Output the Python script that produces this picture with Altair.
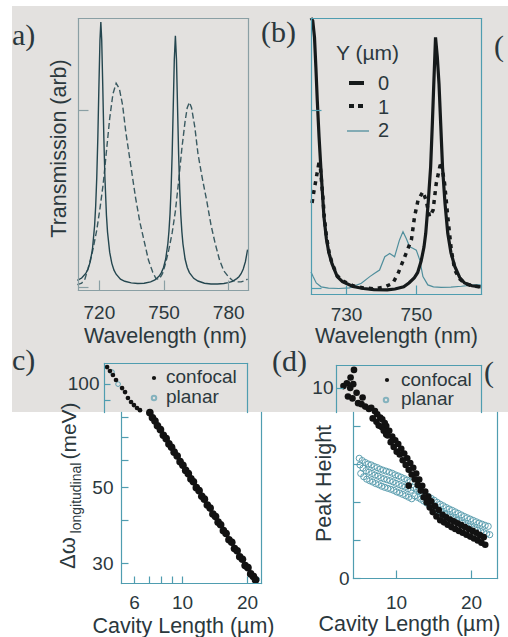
import altair as alt
import pandas as pd

# ---------------- data ----------------
# (a) transmission spectra
A_SOLID_LAM = [710, 712, 714, 715, 716, 717, 718, 718.5, 719, 719.5, 720, 720.5, 720.9, 721.3, 721.8, 722.3,
               722.8, 723.5, 724, 725, 726, 727, 728, 730, 732, 735, 738, 741, 744, 746, 748, 749, 750, 751,
               752, 752.5, 753, 753.5, 754, 754.5, 755, 755.5, 756, 756.5, 757, 757.5, 758, 758.5, 759, 760,
               761, 762, 764, 766, 769, 772, 775, 778, 780, 782, 784, 785, 786, 787, 788, 789]
A_SOLID_I = [0.035, 0.044, 0.062, 0.078, 0.104, 0.15, 0.236, 0.308, 0.412, 0.559, 0.747, 0.92, 0.985, 0.92,
             0.747, 0.559, 0.412, 0.275, 0.213, 0.139, 0.098, 0.073, 0.058, 0.04, 0.032, 0.026, 0.024, 0.025,
             0.03, 0.037, 0.051, 0.064, 0.083, 0.114, 0.17, 0.215, 0.278, 0.37, 0.5, 0.672, 0.848, 0.935,
             0.848, 0.672, 0.5, 0.37, 0.278, 0.215, 0.17, 0.114, 0.083, 0.064, 0.043, 0.033, 0.025, 0.022,
             0.022, 0.024, 0.027, 0.032, 0.042, 0.049, 0.06, 0.077, 0.104, 0.148]
A_DASH_LAM = [710, 712, 713.5, 715, 717, 719, 720.5, 722, 723.5, 725, 726.5, 728, 729.5, 731, 732.5, 734,
              735.5, 737, 739, 741, 743, 745, 746.5, 748, 749.5, 751, 752.5, 754, 755.5, 757, 758.5, 760,
              761, 762, 763, 764.5, 766, 768, 770, 772, 774, 776, 778, 780, 782, 784, 786, 788, 789]
A_DASH_I = [0.02, 0.025, 0.04, 0.08, 0.14, 0.22, 0.30, 0.39, 0.51, 0.63, 0.72, 0.76, 0.74, 0.68, 0.58, 0.50,
            0.42, 0.34, 0.25, 0.18, 0.11, 0.065, 0.042, 0.04, 0.06, 0.10, 0.15, 0.21, 0.29, 0.40, 0.52, 0.62,
            0.67, 0.69, 0.67, 0.60, 0.50, 0.41, 0.33, 0.24, 0.17, 0.11, 0.07, 0.05, 0.035, 0.03, 0.03, 0.035, 0.04]

# (b) spectra for Y = 0, 1, 2 um
B_Y0_LAM = [720.0, 720.5, 721.0, 721.4, 721.8, 722.3, 722.8, 723.3, 723.7, 724.4, 725.1, 726.0, 727.5, 729.0,
            732.0, 735.0, 738.0, 741.8, 744.0, 746.5, 748.0, 749.5, 750.5, 751.5, 752.3, 752.8, 753.5, 754.2,
            754.7, 755.1, 755.6, 756.1, 756.6, 757.1, 757.6, 758.3, 759.1, 760.0, 761.1, 762.5, 763.9, 766.0, 768.5]
B_Y0_I = [1.0, 0.99, 0.93, 0.82, 0.70, 0.57, 0.46, 0.36, 0.28, 0.20, 0.15, 0.11, 0.063, 0.045, 0.027, 0.02,
          0.016, 0.015, 0.018, 0.026, 0.04, 0.058, 0.078, 0.12, 0.17, 0.22, 0.33, 0.46, 0.62, 0.76, 0.93, 0.86,
          0.76, 0.61, 0.46, 0.33, 0.22, 0.15, 0.10, 0.06, 0.04, 0.03, 0.026]
B_Y1_LAM = [720.3, 720.8, 721.5, 722.2, 722.6, 723.0, 723.4, 723.8, 724.4, 725.1, 726.0, 727.5, 729.0, 732.0,
            735.0, 738.0, 741.0, 743.4, 744.9, 746.8, 748.7, 749.6, 750.6, 752.0, 752.9, 753.9, 754.9, 755.8,
            756.8, 757.2, 758.2, 759.1, 760.1, 761.1, 762.5, 764.0, 766.0, 768.5]
B_Y1_I = [0.33, 0.37, 0.42, 0.47, 0.47, 0.41, 0.35, 0.28, 0.21, 0.155, 0.112, 0.066, 0.048, 0.03, 0.022, 0.019,
          0.025, 0.039, 0.075, 0.135, 0.196, 0.28, 0.34, 0.371, 0.34, 0.28, 0.304, 0.40, 0.46, 0.479, 0.40, 0.28,
          0.16, 0.087, 0.055, 0.038, 0.03, 0.026]
B_Y2_LAM = [720.0, 720.6, 721.5, 722.9, 725.0, 728.0, 731.0, 734.4, 736.8, 738.2, 739.6, 741.1, 742.5, 743.9,
            745.3, 746.3, 747.2, 748.2, 749.1, 750.1, 751.1, 752.0, 753.4, 755.0, 757.2, 760.0, 763.0, 766.8, 768.5]
B_Y2_I = [0.08, 0.063, 0.04, 0.026, 0.021, 0.02, 0.022, 0.039, 0.063, 0.075, 0.087, 0.135, 0.147, 0.135, 0.196,
          0.226, 0.202, 0.171, 0.166, 0.159, 0.123, 0.063, 0.033, 0.026, 0.024, 0.025, 0.028, 0.033, 0.033]
B_LEGEND = ["0", "1", "2"]

# (c) longitudinal mode spacing (meV) vs cavity length (um)
C_CONF_TOP_L = [4.50, 4.64, 4.79, 4.95, 5.28, 5.45, 5.62, 5.81, 5.99, 6.19, 6.39]
C_CONF_TOP_D = [111.9, 109.0, 106.1, 102.6, 97.2, 94.6, 90.9, 88.5, 86.7, 85.0, 83.8]
C_CONF_L = [7.1, 7.3, 7.5, 7.7, 7.95, 8.2, 8.45, 8.7, 8.95, 9.2, 9.5, 9.8, 10.1, 10.4, 10.7, 11.0, 11.3, 11.65,
            12.0, 12.35, 12.7, 13.1, 13.5, 13.9, 14.3, 14.7, 15.1, 15.55, 16.0, 16.5, 17.0, 17.5, 18.0, 18.5,
            19.05, 19.6, 20.2, 20.8, 21.4, 21.9]
C_CONF_D = [82.4, 79.6, 77.9, 75.4, 73.5, 70.8, 69.2, 66.8, 65.3, 63.2, 61.6, 59.3, 57.9, 55.9, 54.7, 52.8, 51.8,
            49.8, 48.8, 47.0, 46.1, 44.3, 43.4, 41.7, 41.0, 39.5, 38.8, 37.3, 36.6, 35.1, 34.5, 33.1, 32.6, 31.3,
            30.8, 29.5, 29.1, 27.9, 27.4, 26.8]
C_PLAN_L = [4.74, 5.06, 8.0, 10.0, 12.0, 14.0, 16.0, 18.0, 20.0, 22.3]
C_PLAN_D = [108.2, 99.8, 72.9, 58.3, 48.6, 41.6, 36.4, 32.4, 29.2, 26.9]

# (d) peak height vs cavity length (um)
D_CONF_TOP_L = [4.40, 3.00, 3.45, 3.90, 4.30, 3.60, 4.20, 4.75, 4.95, 5.40, 5.90, 5.55, 6.40, 3.95]
D_CONF_TOP_P = [10.95, 10.10, 10.25, 10.0, 10.2, 9.55, 9.45, 9.75, 9.2, 9.15, 9.02, 9.5, 8.9, 10.55]
D_CONF_A_L = [6.7, 7.2, 7.5, 7.9, 8.17, 8.5, 8.7, 9.1, 9.5, 9.9, 10.3, 10.7, 11.1, 11.5, 11.9, 12.3, 12.7, 13.1,
              13.5, 13.9, 14.3, 14.7, 15.2, 15.7, 16.2, 16.7, 17.2, 17.7, 18.2, 18.7, 19.2, 19.7, 20.2, 20.7, 21.2, 21.7]
D_CONF_A_P = [8.96, 8.78, 8.62, 8.45, 8.35, 8.15, 8.0, 7.75, 7.45, 7.25, 7.05, 6.8, 6.55, 6.3, 6.05, 5.8, 5.5, 5.18,
              4.85, 4.55, 4.28, 4.03, 3.78, 3.58, 3.33, 3.2, 3.08, 2.98, 2.88, 2.78, 2.68, 2.58, 2.48, 2.38, 2.26, 2.15]
D_CONF_B_L = [6.9, 7.4, 7.7, 8.1, 8.37, 8.7, 8.9, 9.3, 9.7, 10.1, 10.5, 10.9, 11.3, 11.7, 12.1, 12.5, 12.9, 13.3,
              13.7, 14.1, 14.5, 14.9, 15.4, 15.9, 16.4, 16.9, 17.4, 17.9, 18.4, 18.9, 19.4, 19.9, 20.4, 20.9, 21.4, 21.9, 11.7]
D_CONF_B_P = [8.40, 8.22, 8.02, 7.95, 7.75, 7.55, 7.5, 7.15, 6.9, 6.65, 6.5, 6.2, 5.95, 5.7, 5.45, 5.2, 4.9, 4.6,
              4.25, 3.98, 3.72, 3.47, 3.24, 3.04, 2.93, 2.8, 2.68, 2.58, 2.48, 2.38, 2.28, 2.18, 2.08, 1.98, 1.86, 1.75, 4.86]
D_PLAN_1_L = [5.1, 5.5, 5.9, 6.3, 6.7, 7.1, 7.5, 7.9, 8.3, 8.7, 9.1, 9.5, 9.9, 10.3, 10.7, 11.1, 11.5, 11.9,
              5.2, 5.6, 6.0, 6.4, 6.8, 7.2, 7.6, 8.0, 8.4, 8.8, 9.2, 9.6, 10.0, 10.4, 10.8, 11.2, 11.6, 12.0,
              5.3, 5.7, 6.1, 6.5, 6.9, 7.3, 7.7, 8.1, 8.5, 8.9, 9.3, 9.7, 10.1, 10.5, 10.9, 11.3, 11.7, 12.1]
D_PLAN_1_P = [6.30, 6.18, 6.08, 6.0, 5.95, 5.87, 5.81, 5.73, 5.67, 5.62, 5.57, 5.51, 5.43, 5.37, 5.30, 5.23, 5.15, 5.07,
              5.95, 5.78, 5.65, 5.57, 5.50, 5.42, 5.36, 5.28, 5.22, 5.17, 5.12, 5.06, 4.98, 4.92, 4.85, 4.78, 4.70, 4.62,
              5.50, 5.33, 5.20, 5.12, 5.05, 4.97, 4.91, 4.83, 4.77, 4.72, 4.67, 4.61, 4.53, 4.47, 4.40, 4.33, 4.25, 4.17]
D_PLAN_2_L = [12.3, 12.7, 13.1, 13.5, 13.9, 14.3, 14.7, 15.1, 15.5, 15.9, 16.3, 16.7, 17.1, 17.5, 17.9, 18.3, 18.7,
              19.1, 19.5, 19.9, 20.3, 20.7, 21.1, 21.5, 21.9, 22.3,
              12.5, 12.9, 13.3, 13.7, 14.1, 14.5, 14.9, 15.3, 15.7, 16.1, 16.5, 16.9, 17.3, 17.7, 18.1, 18.5, 18.9,
              19.3, 19.7, 20.1, 20.5, 20.9, 21.3, 21.7, 22.1, 22.5]
D_PLAN_2_P = [4.76, 4.68, 4.59, 4.49, 4.38, 4.29, 4.19, 4.09, 3.98, 3.88, 3.80, 3.71, 3.63, 3.56, 3.48, 3.40, 3.32,
              3.24, 3.17, 3.10, 3.03, 2.96, 2.89, 2.83, 2.77, 2.72,
              4.32, 4.24, 4.15, 4.05, 3.94, 3.85, 3.75, 3.65, 3.54, 3.44, 3.36, 3.27, 3.19, 3.12, 3.04, 2.96, 2.88,
              2.80, 2.73, 2.66, 2.59, 2.52, 2.45, 2.39, 2.33, 2.28]

# tick values
A_XTICKS = [720, 750, 780]
A_YTICKS = [0.011, 0.662]
B_XTICKS = [730, 750]
B_YTICKS = [0.022, 0.667]
C_XLABELS = [6, 10, 20]
C_XTICKS = [6, 7, 8, 9, 10, 20]
C_YLABELS = [30, 50]
C_YTICKS = [30, 40, 50, 60, 70, 80]
C_YLABELS_TOP = [100]
C_YTICKS_TOP = [90, 100]
D_XTICKS = [10, 20]
D_YLABELS = [0]
D_YTICKS = [0, 2, 4, 6, 8]
D_YLABELS_TOP = [10]

# ---------------- layout / style ----------------
W, H = 508, 637
FONT = "Liberation Sans"
SERIF = "Liberation Serif"
TXT = "#2b383d"
FRAME_A = "#8a9fa4"
FRAME = "#4f9db0"
BG = "#e3e1df"
LBL = 19
TTL = 21.5


def lin(domain, rng):
    return alt.Scale(type="linear", domain=domain, range=rng, nice=False, zero=False)


def logs(domain, rng):
    return alt.Scale(type="log", domain=domain, range=rng, nice=False)


def guide(xscale, yscale, x0, y0, xaxis=None, yaxis=None):
    df = pd.DataFrame({"gx": [x0], "gy": [y0]})
    return alt.Chart(df).mark_point(opacity=0, size=1).encode(
        x=alt.X("gx:Q", scale=xscale, axis=xaxis),
        y=alt.Y("gy:Q", scale=yscale, axis=yaxis),
    )


def frame_x(at_y, color):
    return alt.Axis(orient="top", offset=-at_y, domain=True, ticks=False, labels=False, title=None,
                    grid=False, domainColor=color, domainWidth=1.2, zindex=1)


def frame_y(at_x, color):
    return alt.Axis(orient="right", offset=at_x - W, domain=True, ticks=False, labels=False, title=None,
                    grid=False, domainColor=color, domainWidth=1.2, zindex=1)


def ticks_x(at_y, values, size, color):
    return alt.Axis(orient="top", offset=-at_y, values=values, domain=False, ticks=True, tickSize=size,
                    tickColor=color, tickWidth=1.2, labels=False, title=None, grid=False, zindex=1)


def ticks_y(at_x, values, size, color):
    return alt.Axis(orient="right", offset=at_x - W, values=values, domain=False, ticks=True, tickSize=size,
                    tickColor=color, tickWidth=1.2, labels=False, title=None, grid=False, zindex=1)


def bottom_axis(at_y, values, color, pad, title, title_x, title_dy, fmt="d"):
    return alt.Axis(orient="bottom", offset=at_y - H, values=values, format=fmt, domain=True,
                    domainColor=color, domainWidth=1.2, ticks=False, tickSize=0, labels=True,
                    labelPadding=pad, labelBaseline="alphabetic", labelFont=FONT, labelFontSize=LBL,
                    labelColor=TXT, labelFlush=False, labelOverlap=False, grid=False,
                    title=title, titleX=title_x, titleY=title_dy, titleBaseline="alphabetic",
                    titleAlign="center", titleAngle=0, titleFont=FONT, titleFontSize=TTL,
                    titleFontWeight="normal", titleColor=TXT, zindex=1)


def left_axis(at_x, values, color, pad, title=None, title_dx=0, title_y=0, fmt="d"):
    kw = dict(orient="left", offset=-at_x, domain=True, domainColor=color, domainWidth=1.2,
              ticks=False, tickSize=0, grid=False, labelFlush=False, labelOverlap=False, zindex=1)
    if values:
        kw.update(values=values, format=fmt, labels=True, labelPadding=pad, labelFont=FONT,
                  labelFontSize=LBL, labelColor=TXT, labelAlign="right", labelBaseline="middle")
    else:
        kw.update(labels=False)
    if title:
        kw.update(title=title, titleX=title_dx, titleY=title_y, titleAngle=270, titleBaseline="alphabetic",
                  titleAlign="center", titleFont=FONT, titleFontSize=TTL, titleFontWeight="normal",
                  titleColor=TXT)
    else:
        kw.update(title=None)
    return alt.Axis(**kw)


def text(t, x, y, size, font=FONT, align="left", baseline="alphabetic", angle=0, color=TXT):
    return alt.Chart(pd.DataFrame({"t": [t]})).mark_text(
        align=align, baseline=baseline, font=font, fontSize=size, color=color, angle=angle
    ).encode(x=alt.value(x), y=alt.value(y), text="t:N")


def one():
    return pd.DataFrame({"k": [0]})


layers = []

# background of the scanned upper part
layers.append(alt.Chart(one()).mark_rect(color=BG).encode(
    x=alt.value(12), x2=alt.value(W), y=alt.value(6), y2=alt.value(412)))

# ---------------- panel (a) ----------------
AX = lin([710.3, 789.2], [78, 248])
AY = lin([0, 1], [290, 18])
layers.append(alt.Chart(pd.DataFrame({"lam": A_DASH_LAM, "I": A_DASH_I})).mark_line(
    color="#3a5a61", strokeWidth=1.4, strokeDash=[6, 3]).encode(
    x=alt.X("lam:Q", scale=AX, axis=None), y=alt.Y("I:Q", scale=AY, axis=None)))
layers.append(alt.Chart(pd.DataFrame({"lam": A_SOLID_LAM, "I": A_SOLID_I})).mark_line(
    color="#24464f", strokeWidth=1.4).encode(
    x=alt.X("lam:Q", scale=AX, axis=None), y=alt.Y("I:Q", scale=AY, axis=None)))
layers.append(guide(AX, AY, 720, 0.5,
                    bottom_axis(290, A_XTICKS, FRAME_A, 28, "Wavelength (nm)", 165, 52),
                    left_axis(78, [], FRAME_A, 0, "Transmission (arb)", -13, 148)))
layers.append(guide(AX, AY, 720, 0.5, ticks_x(290, A_XTICKS, 10, FRAME_A), ticks_y(78, A_YTICKS, 10, FRAME_A)))
layers.append(guide(AX, AY, 720, 0.5, frame_x(18, FRAME_A), frame_y(248, FRAME_A)))

# ---------------- panel (b) ----------------
BX = lin([720, 768.6], [311, 481])
BY = lin([0, 1], [294, 18])
layers.append(alt.Chart(pd.DataFrame({"lam": B_Y2_LAM, "I": B_Y2_I})).mark_line(
    color="#4f8e9c", strokeWidth=1.2).encode(
    x=alt.X("lam:Q", scale=BX, axis=None), y=alt.Y("I:Q", scale=BY, axis=None)))
layers.append(alt.Chart(pd.DataFrame({"lam": B_Y1_LAM, "I": B_Y1_I})).mark_line(
    color="#161a1b", strokeWidth=3.5, strokeDash=[4, 5]).encode(
    x=alt.X("lam:Q", scale=BX, axis=None), y=alt.Y("I:Q", scale=BY, axis=None)))
layers.append(alt.Chart(pd.DataFrame({"lam": B_Y0_LAM, "I": B_Y0_I})).mark_line(
    color="#161a1b", strokeWidth=3.2).encode(
    x=alt.X("lam:Q", scale=BX, axis=None), y=alt.Y("I:Q", scale=BY, axis=None)))
layers.append(guide(BX, BY, 730, 0.5,
                    bottom_axis(294, B_XTICKS, FRAME, 26, "Wavelength (nm)", 396, 48),
                    left_axis(311, [], FRAME, 0)))
layers.append(guide(BX, BY, 730, 0.5, ticks_x(294, B_XTICKS, 9, FRAME), ticks_y(311, B_YTICKS, 10, FRAME)))
layers.append(guide(BX, BY, 730, 0.5, frame_x(18, FRAME), frame_y(481, FRAME)))
# legend of (b)
layers.append(text("Y (\u00b5m)", 336, 60, 21))
layers.append(alt.Chart(one()).mark_rule(color="#161a1b", strokeWidth=4).encode(
    x=alt.value(349), x2=alt.value(364), y=alt.value(83)))
layers.append(alt.Chart(one()).mark_rule(color="#161a1b", strokeWidth=4, strokeDash=[5, 4]).encode(
    x=alt.value(349), x2=alt.value(367), y=alt.value(106)))
layers.append(alt.Chart(one()).mark_rule(color="#4f8e9c", strokeWidth=1.3).encode(
    x=alt.value(347), x2=alt.value(369), y=alt.value(131)))
layers.append(alt.Chart(pd.DataFrame({"lab": B_LEGEND, "row": [0, 1, 2]})).mark_text(
    align="left", baseline="alphabetic", font=FONT, fontSize=20, color=TXT).encode(
    x=alt.value(378), y=alt.Y("row:Q", scale=lin([0, 2], [90, 137]), axis=None), text="lab:N"))

# ---------------- panel (c) ----------------
CX = logs([5.22, 25.55], [121, 270])
CY = logs([26.25, 115.0], [583, 363])
CXW = logs([5.22, 23.21], [121, 261])
CYW = logs([26.25, 82.76], [583, 412])
CXG = lin([0, 1], [104, 247])
CYG = logs([82.76, 115.0], [412, 363])
layers.append(guide(CXG, CYG, 0.5, 100, frame_x(363, FRAME), left_axis(104, C_YLABELS_TOP, FRAME, 5)))
layers.append(guide(CXG, CYG, 0.5, 100, None, ticks_y(104, C_YTICKS_TOP, 6, FRAME)))
layers.append(guide(CXG, CYG, 0.5, 100, None, frame_y(247, FRAME)))
layers.append(alt.Chart(pd.DataFrame({"L": C_PLAN_L, "D": C_PLAN_D})).mark_point(
    shape="circle", filled=False, color="#5d9fb0", size=22, strokeWidth=1, opacity=1).encode(
    x=alt.X("L:Q", scale=CX, axis=None), y=alt.Y("D:Q", scale=CY, axis=None)))
layers.append(alt.Chart(pd.DataFrame({"L": C_CONF_TOP_L, "D": C_CONF_TOP_D})).mark_circle(
    color="#121212", size=22, opacity=1).encode(
    x=alt.X("L:Q", scale=CX, axis=None), y=alt.Y("D:Q", scale=CY, axis=None)))
layers.append(alt.Chart(pd.DataFrame({"L": C_CONF_L, "D": C_CONF_D})).mark_circle(
    color="#121212", size=58, opacity=1).encode(
    x=alt.X("L:Q", scale=CX, axis=None), y=alt.Y("D:Q", scale=CY, axis=None)))
layers.append(guide(CXW, CYW, 10, 50,
                    bottom_axis(583, C_XLABELS, FRAME, 25, "Cavity Length (\u00b5m)", 183, 49),
                    left_axis(121, C_YLABELS, FRAME, 8)))
layers.append(guide(CXW, CYW, 10, 50, ticks_x(583, C_XTICKS, 7, FRAME), ticks_y(121, C_YTICKS, 7, FRAME)))
layers.append(guide(CXW, CYW, 10, 50, None, frame_y(261, FRAME)))
# composite y title of (c)
layers.append(text("\u0394\u03c9", 68, 553, 22, align="center", baseline="middle", angle=270))
layers.append(text("longitudinal", 77, 498, 14, align="center", baseline="middle", angle=270))
layers.append(text("(meV)", 70, 431, 21, align="center", baseline="middle", angle=270))
# legend of (c)
layers.append(alt.Chart(one()).mark_circle(color="#121212", size=18, opacity=1).encode(
    x=alt.value(154), y=alt.value(378)))
layers.append(alt.Chart(one()).mark_point(shape="circle", filled=False, color="#5d9fb0", size=20).encode(
    x=alt.value(154), y=alt.value(398)))
layers.append(text("confocal", 166, 383, 19))
layers.append(text("planar", 166, 403, 19))

# ---------------- panel (d) ----------------
DX = lin([4.27, 23.47], [353, 497])
DY = lin([0, 11.21], [578, 365])
DYW = lin([0, 8.737], [578, 412])
DXG = lin([0, 1], [336, 481])
DYG = lin([8.737, 11.21], [412, 365])
layers.append(guide(DXG, DYG, 0.5, 10, frame_x(365, FRAME), left_axis(336, D_YLABELS_TOP, FRAME, 3)))
layers.append(guide(DXG, DYG, 0.5, 10, None, ticks_y(336, D_YLABELS_TOP, 7, FRAME)))
layers.append(guide(DXG, DYG, 0.5, 10, None, frame_y(481, FRAME)))
layers.append(alt.Chart(pd.DataFrame({"L": D_PLAN_1_L + D_PLAN_2_L, "P": D_PLAN_1_P + D_PLAN_2_P})).mark_point(
    shape="circle", filled=False, color="#5d9fb0", size=38, strokeWidth=1, opacity=1).encode(
    x=alt.X("L:Q", scale=DX, axis=None), y=alt.Y("P:Q", scale=DY, axis=None)))
layers.append(alt.Chart(pd.DataFrame({"L": D_CONF_TOP_L + D_CONF_A_L + D_CONF_B_L,
                                      "P": D_CONF_TOP_P + D_CONF_A_P + D_CONF_B_P})).mark_circle(
    color="#121212", size=44, opacity=1).encode(
    x=alt.X("L:Q", scale=DX, axis=None), y=alt.Y("P:Q", scale=DY, axis=None)))
layers.append(guide(DX, DYW, 10, 2,
                    bottom_axis(578, D_XTICKS, FRAME, 30, "Cavity Length (\u00b5m)", 409, 52),
                    left_axis(353, D_YLABELS, FRAME, 4, "Peak Height", -23, 483)))
layers.append(guide(DX, DYW, 10, 2, ticks_x(578, D_XTICKS, 8, FRAME), ticks_y(353, D_YTICKS, 7, FRAME)))
layers.append(guide(DX, DYW, 10, 2, None, frame_y(497, FRAME)))
# legend of (d)
layers.append(alt.Chart(one()).mark_circle(color="#121212", size=18, opacity=1).encode(
    x=alt.value(387), y=alt.value(380)))
layers.append(alt.Chart(one()).mark_point(shape="circle", filled=False, color="#5d9fb0", size=20).encode(
    x=alt.value(386), y=alt.value(400)))
layers.append(text("confocal", 401, 386, 19))
layers.append(text("planar", 401, 405, 19))

# ---------------- panel letters ----------------
layers.append(text("a)", 12, 45, 30, font=SERIF))
layers.append(text("(b)", 261, 42, 30, font=SERIF))
layers.append(text("(", 494, 56, 30, font=SERIF))
layers.append(text("c)", 12, 370, 30, font=SERIF))
layers.append(text("(d)", 272, 371, 30, font=SERIF))
layers.append(text("(", 484, 382, 30, font=SERIF))

chart = alt.layer(*layers).resolve_scale(
    x="independent", y="independent"
).resolve_axis(
    x="independent", y="independent"
).properties(
    width=W, height=H, padding=0, background="white",
    autosize=alt.AutoSizeParams(type="none"),
).configure_view(strokeWidth=0).configure_axis(grid=False, domainCap="square")

chart.save("out.html", embed_options={"renderer": "svg", "actions": False})
